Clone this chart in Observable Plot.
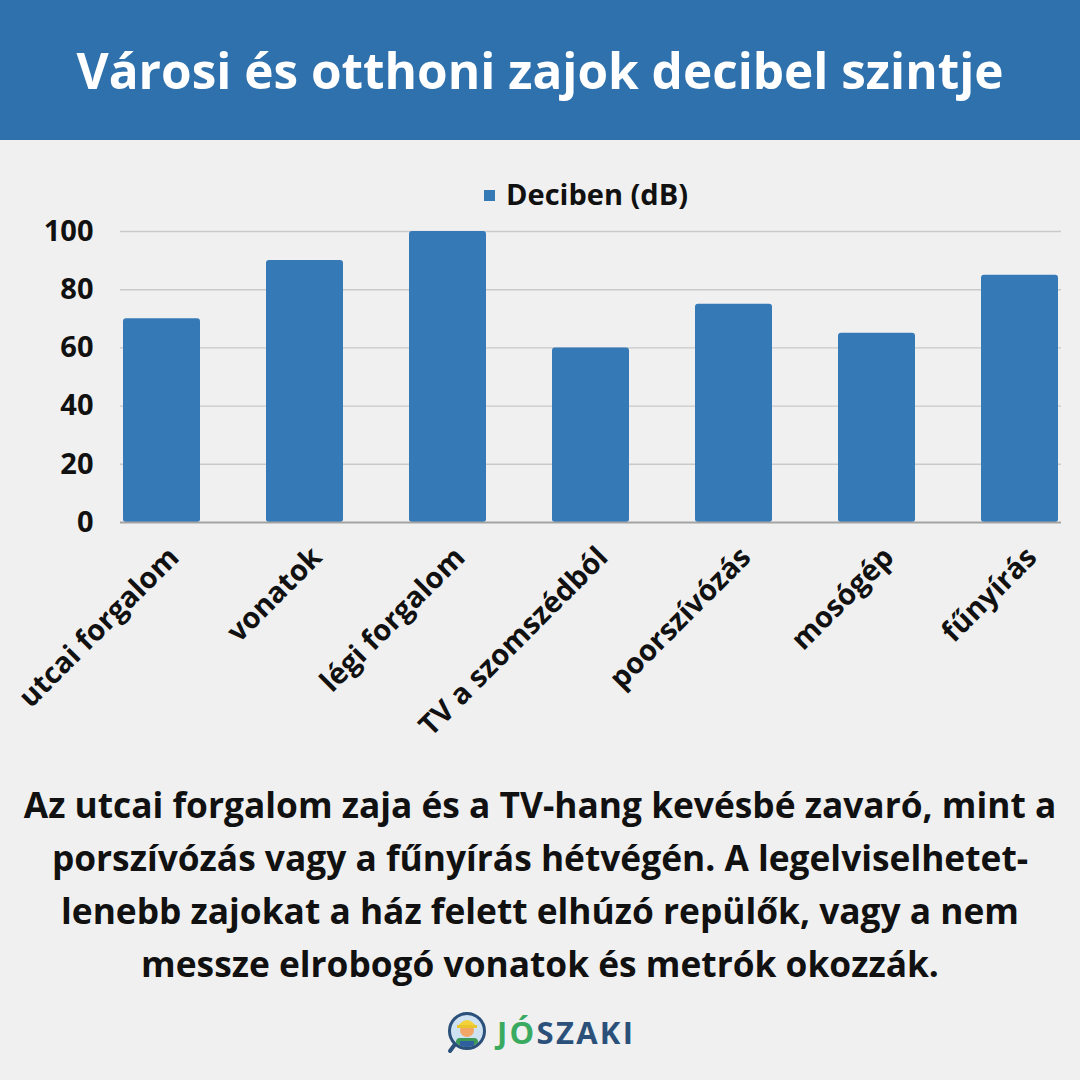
<!DOCTYPE html>
<html>
<head>
<meta charset="utf-8">
<script src="https://cdn.jsdelivr.net/npm/d3@7"></script>
<script src="https://cdn.jsdelivr.net/npm/@observablehq/plot@0.6"></script>
<style>
  html, body { margin: 0; padding: 0; }
  body { width: 1080px; height: 1080px; background: #f0f0f0; font-family: "Open Sans", Lato, sans-serif; position: relative; overflow: hidden; }
  #header { position: absolute; left: 0; top: 0; width: 1080px; height: 140px; background: #2e71ac; color: #fff; display: flex; align-items: center; justify-content: center; font-weight: 700; font-size: 49.5px; }
  #legend { position: absolute; left: 96px; top: 176px; width: 980px; text-align: center; font-weight: 700; font-size: 29px; color: #111; line-height: 36px; }
  #legend .sw { display: inline-block; width: 11px; height: 11px; background: #3579b6; margin-right: 11px; vertical-align: 4px; }
  #chart { position: absolute; left: 0; top: 140px; }
  #chart svg text { font-weight: 700; }
  #caption { position: absolute; left: 0; top: 778px; width: 1080px; text-align: center; font-weight: 700; font-size: 35.3px; line-height: 53px; color: #111; }
  #logo { position: absolute; left: 446px; top: 1010px; height: 44px; display: flex; align-items: center; }
  #logo .txt { font-weight: 700; font-size: 31px; margin-left: 9px; letter-spacing: 2.3px; }
</style>
</head>
<body>
<div id="header"></div>
<div id="legend"></div>
<div id="chart"></div>
<div id="caption"></div>
<div id="logo">
  <svg width="42" height="44" viewBox="0 0 42 44">
    <path d="M4 41 L10 33" stroke="#2b5079" stroke-width="4" stroke-linecap="round"/>
    <circle cx="21" cy="21" r="17.5" fill="#cfe2f2" stroke="#2b5079" stroke-width="3"/>
    <clipPath id="cc"><circle cx="21" cy="21" r="16"/></clipPath>
    <g clip-path="url(#cc)">
      <rect x="10" y="28" width="22" height="14" rx="4" fill="#3a9a55"/>
      <rect x="14" y="31" width="14" height="12" fill="#2f5f9e"/>
      <circle cx="21" cy="20" r="7" fill="#f2a766"/>
      <path d="M12 16 Q21 4 30 16 Z" fill="#f3d23a"/>
      <rect x="11" y="15" width="20" height="3" fill="#e9c52c"/>
    </g>
  </svg>
  <span class="txt"><span style="color:#3aaa61">JÓ</span><span style="color:#2b5079">SZAKI</span></span>
</div>
<script>
// ---- data ----
const title = "Városi és otthoni zajok decibel szintje";
const seriesName = "Deciben (dB)";
const categories = ["utcai forgalom", "vonatok", "légi forgalom", "TV a szomszédból", "poorszívózás", "mosógép", "fűnyírás"];
const decibels = [70, 90, 100, 60, 75, 65, 85];
const yTicks = [0, 20, 40, 60, 80, 100];
const captionLines = [
  "Az utcai forgalom zaja és a TV-hang kevésbé zavaró, mint a",
  "porszívózás vagy a fűnyírás hétvégén. A legelviselhetet-",
  "lenebb zajokat a ház felett elhúzó repülők, vagy a nem",
  "messze elrobogó vonatok és metrók okozzák."
];

document.getElementById("header").textContent = title;
document.getElementById("legend").innerHTML = '<span class="sw"></span>' + seriesName;
const cap = document.getElementById("caption");
captionLines.forEach((l, i) => { if (i) cap.appendChild(document.createElement("br")); cap.appendChild(document.createTextNode(l)); });

const data = categories.map((c, i) => ({category: c, value: decibels[i]}));

// shift a mark's group in screen space (keeps Plot's own band offset)
const offset = (ox, oy) => (index, scales, values, dims, ctx, next) => {
  const g = next(index, scales, values, dims, ctx);
  const t = g.getAttribute("transform");
  g.setAttribute("transform", (t ? t + " " : "") + `translate(${ox},${oy})`);
  return g;
};

const chart = Plot.plot({
  width: 1080,
  height: 622,
  marginLeft: 120,
  marginRight: 19,
  marginTop: 91,
  marginBottom: 240,
  style: {background: "transparent", fontFamily: "'Open Sans', Lato, sans-serif", fontSize: "29px", color: "#111", overflow: "visible"},
  x: {domain: categories, paddingInner: 0.465, paddingOuter: 0, axis: null},
  y: {domain: [0, 100], axis: null},
  marks: [
    Plot.ruleY(yTicks.filter(t => t > 0), {stroke: "#c9c9c9", strokeWidth: 1.4}),
    Plot.barY(data, {x: "category", y: "value", fill: "#3579b6", rx: 3}),
    Plot.ruleY([0], {stroke: "#a3a3a3", strokeWidth: 2}),
    Plot.axisY({ticks: yTicks, tickSize: 0, tickPadding: 27, fontSize: 29, fontWeight: 700, fill: "#111", label: null, tickFormat: d => String(d)}),
    Plot.text(categories, {x: d => d, y: 0, text: d => d, rotate: -45, textAnchor: "end", lineAnchor: "top", fontSize: 29, fontWeight: 700, fill: "#111", render: offset(4, 22)})
  ]
});
document.getElementById("chart").appendChild(chart);
</script>
</body>
</html>
